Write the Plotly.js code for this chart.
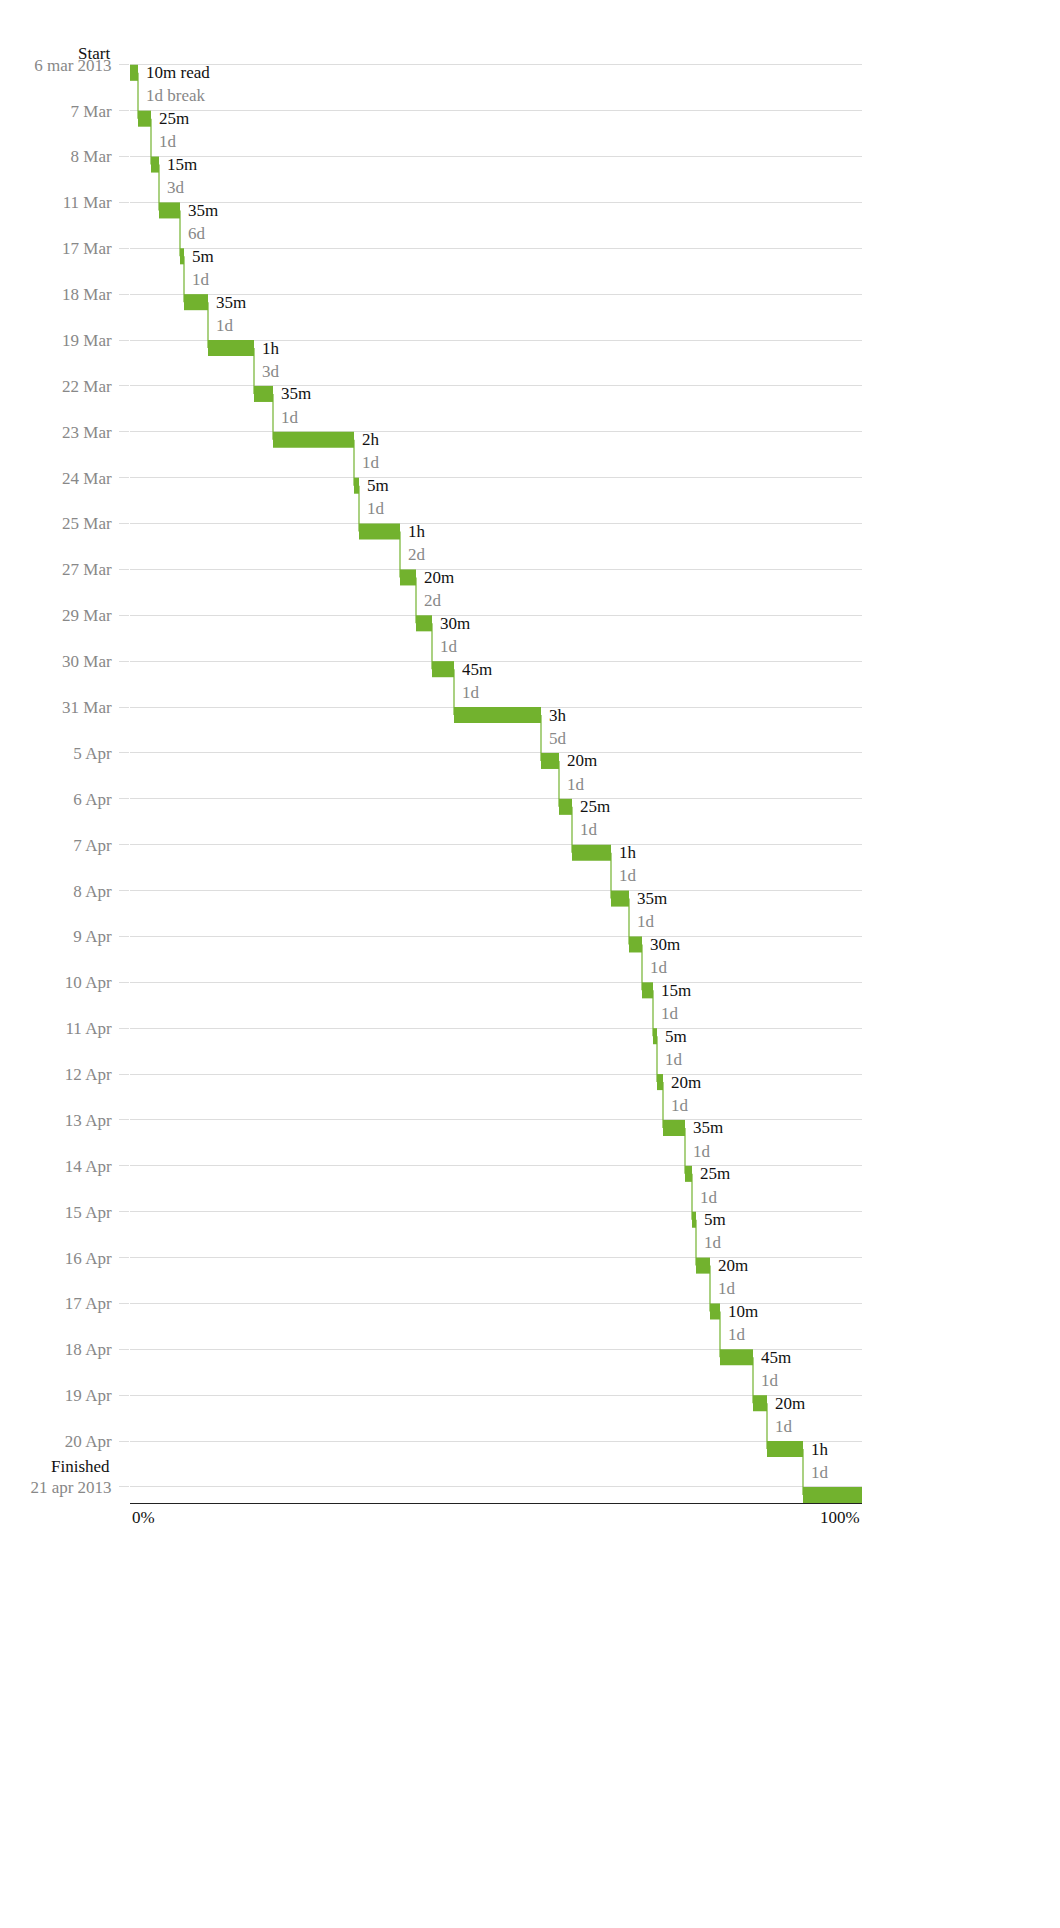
<!DOCTYPE html>
<html>
<head>
<meta charset="utf-8">
<script src="https://cdn.plot.ly/plotly-3.0.1.min.js"></script>
<style>body{margin:0;background:#fff}</style>
</head>
<body>
<div id="chart" style="width:1060px;height:1928px"></div>
<script>
// one row per reading day
const dayLabels = ["6 mar 2013","7 Mar","8 Mar","11 Mar","17 Mar","18 Mar","19 Mar","22 Mar","23 Mar","24 Mar",
  "25 Mar","27 Mar","29 Mar","30 Mar","31 Mar","5 Apr","6 Apr","7 Apr","8 Apr","9 Apr","10 Apr","11 Apr",
  "12 Apr","13 Apr","14 Apr","15 Apr","16 Apr","17 Apr","18 Apr","19 Apr","20 Apr","21 apr 2013"];
const readLabels = ["10m read","25m","15m","35m","5m","35m","1h","35m","2h","5m","1h","20m","30m","45m",
  "3h","20m","25m","1h","35m","30m","15m","5m","20m","35m","25m","5m","20m","10m","45m","20m","1h",""];
const breakLabels = ["1d break","1d","3d","6d","1d","1d","3d","1d","1d","1d","2d","2d","1d","1d","5d",
  "1d","1d","1d","1d","1d","1d","1d","1d","1d","1d","1d","1d","1d","1d","1d","1d",""];
// relative share of total reading time per session
const sessionShare = [8,13,8,21,4,24,46,19,81,5,41,16,16,22,87,18,13,39,18,13,11,4,6,22,7,4,14,10,33,14,36,59];

const green = "#72b22e";
const total = sessionShare.reduce((a, b) => a + b, 0);
const starts = [], widths = [];
let acc = 0;
sessionShare.forEach(s => { starts.push(acc / total * 100); widths.push(s / total * 100); acc += s; });
const rows = dayLabels.map((_, i) => i);
const barH = 0.35;

const bars = {
  type: "bar", orientation: "h",
  y: rows.map(r => r + barH / 2), x: widths, base: starts, width: barH,
  marker: {color: green}, hoverinfo: "skip"
};
const lx = [], ly = [];
for (let i = 0; i < rows.length - 1; i++) {
  const e = starts[i] + widths[i];
  lx.push(e, e, null); ly.push(i + barH / 2, i + 1 + barH / 2, null);
}
const connectors = {type: "scatter", mode: "lines", x: lx, y: ly, line: {color: green, width: 1.2}, hoverinfo: "skip"};

const font = "Liberation Serif, DejaVu Serif, serif";
const ann = [];
rows.forEach(i => {
  const e = starts[i] + widths[i];
  if (readLabels[i]) ann.push({x: e, y: i + barH / 2, text: readLabels[i], xanchor: "left", xshift: 6, showarrow: false,
    font: {family: font, size: 17, color: "#111"}});
  if (breakLabels[i]) ann.push({x: e, y: i + 0.68, text: breakLabels[i], xanchor: "left", xshift: 6, showarrow: false,
    font: {family: font, size: 17, color: "#888"}});
});
ann.push({xref: "paper", yref: "paper", x: -0.024, y: 1, yshift: -2, text: "Start", xanchor: "right", yanchor: "middle",
  showarrow: false, font: {family: font, size: 17, color: "#111"}});
ann.push({xref: "paper", x: -0.024, y: rows.length - 1.45, text: "Finished", xanchor: "right", showarrow: false, font: {family: font, size: 17, color: "#111"}});
ann.push({x: 0, yref: "paper", y: 0, yshift: -26, text: "0%", xanchor: "left", showarrow: false, font: {family: font, size: 17, color: "#111"}});
ann.push({x: 100, yref: "paper", y: 0, yshift: -26, text: "100%", xanchor: "right", showarrow: false, font: {family: font, size: 17, color: "#111"}});

const layout = {
  width: 1060, height: 1928, showlegend: false, barmode: "overlay",
  margin: {l: 130, r: 198, t: 51, b: 425},
  paper_bgcolor: "#fff", plot_bgcolor: "#fff",
  xaxis: {range: [0, 100], showgrid: false, zeroline: false, showticklabels: false, ticks: "",
    showline: true, linecolor: "#222", linewidth: 1, fixedrange: true},
  yaxis: {range: [rows.length - 1 + barH, -0.3], tickvals: rows, ticktext: dayLabels,
    showgrid: true, gridcolor: "#ddd", zeroline: false, ticks: "outside", ticklen: 10, tickcolor: "#ddd",
    tickfont: {family: font, size: 17, color: "#888"}, ticklabelstandoff: 4},
  annotations: ann
};
Plotly.newPlot("chart", [bars, connectors], layout, {displayModeBar: false, staticPlot: true});
</script>
</body>
</html>
